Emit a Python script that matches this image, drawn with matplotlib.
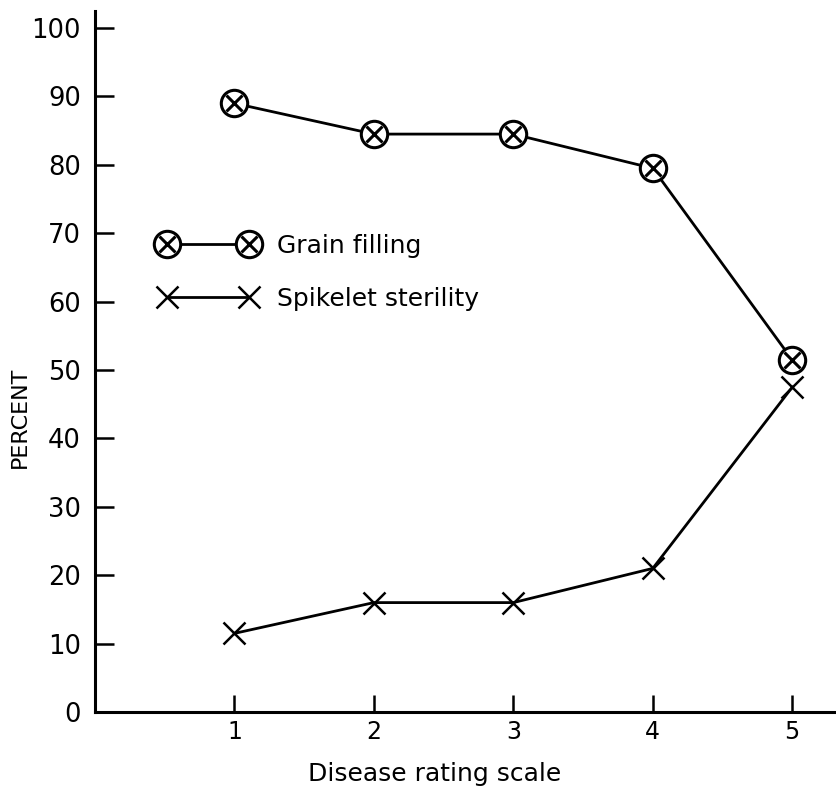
import matplotlib
matplotlib.use('Agg')
import matplotlib.pyplot as plt
from matplotlib.legend_handler import HandlerTuple

rating = [1, 2, 3, 4, 5]
grain_filling = [89, 84.5, 84.5, 79.5, 51.5]
spikelet_sterility = [11.5, 16, 16, 21, 47.5]
y_ticks = [0, 10, 20, 30, 40, 50, 60, 70, 80, 90, 100]

plt.rcParams['font.family'] = 'DejaVu Sans'

fig = plt.figure(figsize=(8.37, 7.96), dpi=100)
ax = fig.add_axes([0.1135, 0.1055, 0.883, 0.8807])

# grain filling: open circle with an x inside
g_line, = ax.plot(rating, grain_filling, color='k', lw=2, marker='o', ms=19,
                  mfc='white', mec='k', mew=2.2, zorder=3)
g_x, = ax.plot(rating, grain_filling, ls='none', marker='x', ms=11,
               mec='k', mew=2.2, zorder=4)
s_line, = ax.plot(rating, spikelet_sterility, color='k', lw=2, marker='x',
                  ms=16, mec='k', mew=1.8, zorder=3)

ax.set_xlim(0, 5.3)
ax.set_ylim(0, 102.5)
ax.set_xticks(rating)
ax.set_yticks(y_ticks)
ax.set_xticklabels([str(r) for r in rating], fontsize=17)
ax.set_yticklabels([str(t) for t in y_ticks], fontsize=18.5)
ax.tick_params(axis='y', direction='in', length=14, width=1.8, pad=10)
ax.tick_params(axis='x', direction='in', length=12, width=1.8, pad=6)

for side in ['top', 'right']:
    ax.spines[side].set_visible(False)
for side in ['left', 'bottom']:
    ax.spines[side].set_linewidth(2.2)

ax.set_ylabel('PERCENT', fontsize=16)
ax.yaxis.set_label_coords(-0.088, 0.42)
ax.set_xlabel('Disease rating scale', fontsize=18)
ax.xaxis.set_label_coords(0.46, -0.072)

ax.legend(handles=[(g_line, g_x), s_line],
          labels=['Grain filling', 'Spikelet sterility'],
          handler_map={tuple: HandlerTuple(ndivide=1, pad=0)},
          numpoints=2, frameon=False, fontsize=18,
          handlelength=3.9, handletextpad=0.8, labelspacing=1.15,
          borderpad=0, borderaxespad=0,
          loc='upper left', bbox_to_anchor=(0.087, 0.682),
          bbox_transform=ax.transAxes)

fig.savefig('out.png', dpi=100)
